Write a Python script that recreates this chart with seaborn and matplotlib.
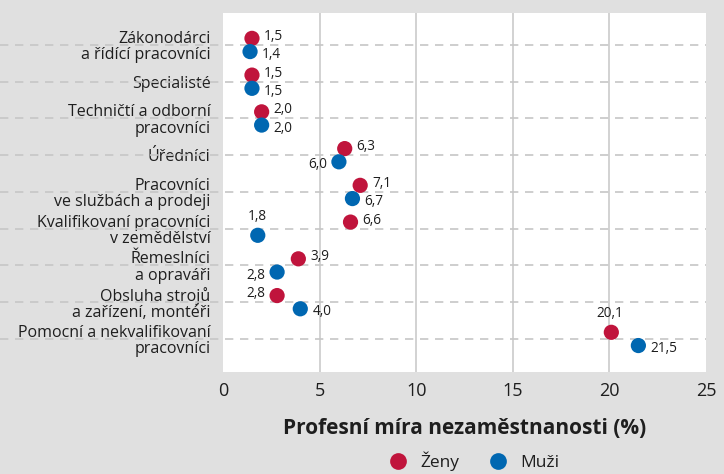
import matplotlib
matplotlib.use("Agg")
import matplotlib.pyplot as plt
import seaborn as sns
import pandas as pd
import numpy as np

categories = [
    "Zákonodárci\na řídící pracovníci",
    "Specialisté",
    "Techničtí a odborní\npracovníci",
    "Úředníci",
    "Pracovníci\nve službách a prodeji",
    "Kvalifikovaní pracovníci\nv zemědělství",
    "Řemeslníci\na opraváři",
    "Obsluha strojů\na zařízení, montéři",
    "Pomocní a nekvalifikovaní\npracovníci",
]
zeny = [1.5, 1.5, 2.0, 6.3, 7.1, 6.6, 3.9, 2.8, 20.1]
muzi = [1.4, 1.5, 2.0, 6.0, 6.7, 1.8, 2.8, 4.0, 21.5]
series_names = ["Ženy", "Muži"]
x_ticks = [0, 5, 10, 15, 20, 25]
x_label = "Profesní míra nezaměstnanosti (%)"

BG = "#e0e0e0"
RED = "#c0143c"
BLUE = "#0067b1"
TXT = "#1e1e1e"
FONT = ["Open Sans", "DejaVu Sans"]

sns.set_theme(style="white")
plt.rcParams["font.family"] = FONT

rows = []
for i, c in enumerate(categories):
    rows.append({"cat": i, "pos": i - 0.18, "val": zeny[i], "sex": series_names[0]})
    rows.append({"cat": i, "pos": i + 0.18, "val": muzi[i], "sex": series_names[1]})
df = pd.DataFrame(rows)

fig = plt.figure(figsize=(7.24, 4.74), dpi=100, facecolor=BG)
ax = fig.add_axes([223 / 724, 1 - 372 / 474, (706 - 223) / 724, (372 - 13) / 474])
ax.set_facecolor("white")

# vertical grid
for xv in x_ticks[1:-1]:
    ax.axvline(xv, color="#d2d2d2", lw=1.4, zorder=0)

# dashed category lines extending into the label area
ytr = ax.get_yaxis_transform()
x0 = -223 / (706 - 223)
for i in range(len(categories)):
    ax.plot([x0, 1], [i, i], transform=ytr, clip_on=False, color="#c6c6c6",
            lw=1.2, ls=(0, (5, 4)), zorder=1)

sns.scatterplot(data=df, x="val", y="pos", hue="sex", palette=[RED, BLUE],
                s=120, edgecolor="none", ax=ax, zorder=3, legend=True)
h, l = ax.get_legend_handles_labels()
ax.get_legend().remove()

# label placements: (dx px, dy px, ha, va)
place = {}
for i in range(len(categories)):
    place[(i, 0)] = (12, 2, "left", "center")
    place[(i, 1)] = (12, -3, "left", "center")
place[(3, 1)] = (-12, -3, "right", "center")
place[(5, 1)] = (0, 11, "center", "bottom")
place[(6, 1)] = (-12, -3, "right", "center")
place[(7, 0)] = (-12, 2, "right", "center")
place[(8, 0)] = (-2, 11, "center", "bottom")

for _, r in df.iterrows():
    k = 0 if r["sex"] == series_names[0] else 1
    dx, dy, ha, va = place[(int(r["cat"]), k)]
    ax.annotate(f"{r['val']:.1f}".replace(".", ","), (r["val"], r["pos"]),
                xytext=(dx * 0.72, dy * 0.72), textcoords="offset points",
                ha=ha, va=va, fontsize=9.8, color=TXT, zorder=4)

ax.set_xlim(0, 25)
ax.set_ylim(len(categories) - 1 + 0.9, -0.87)
ax.set_xticks(x_ticks)
ax.set_xticklabels([str(t) for t in x_ticks], fontsize=13, color=TXT)
ax.set_yticks(range(len(categories)))
ax.set_yticklabels(categories, fontsize=11.5, color=TXT, linespacing=1.02)
ax.tick_params(axis="both", length=0)
ax.tick_params(axis="x", pad=7)
ax.tick_params(axis="y", pad=9)
for s in ax.spines.values():
    s.set_visible(False)
ax.set_ylabel("")
ax.set_xlabel(x_label, fontsize=15, fontweight="bold", color=TXT, labelpad=13)

fig.legend(h, l, loc="center", bbox_to_anchor=(470 / 724, 13 / 474), ncol=2,
           frameon=False, fontsize=12.5, handletextpad=0.3, columnspacing=1.2,
           markerscale=1.1, labelcolor=TXT, borderpad=0.1)

fig.savefig("out.png", dpi=100, facecolor=BG)
